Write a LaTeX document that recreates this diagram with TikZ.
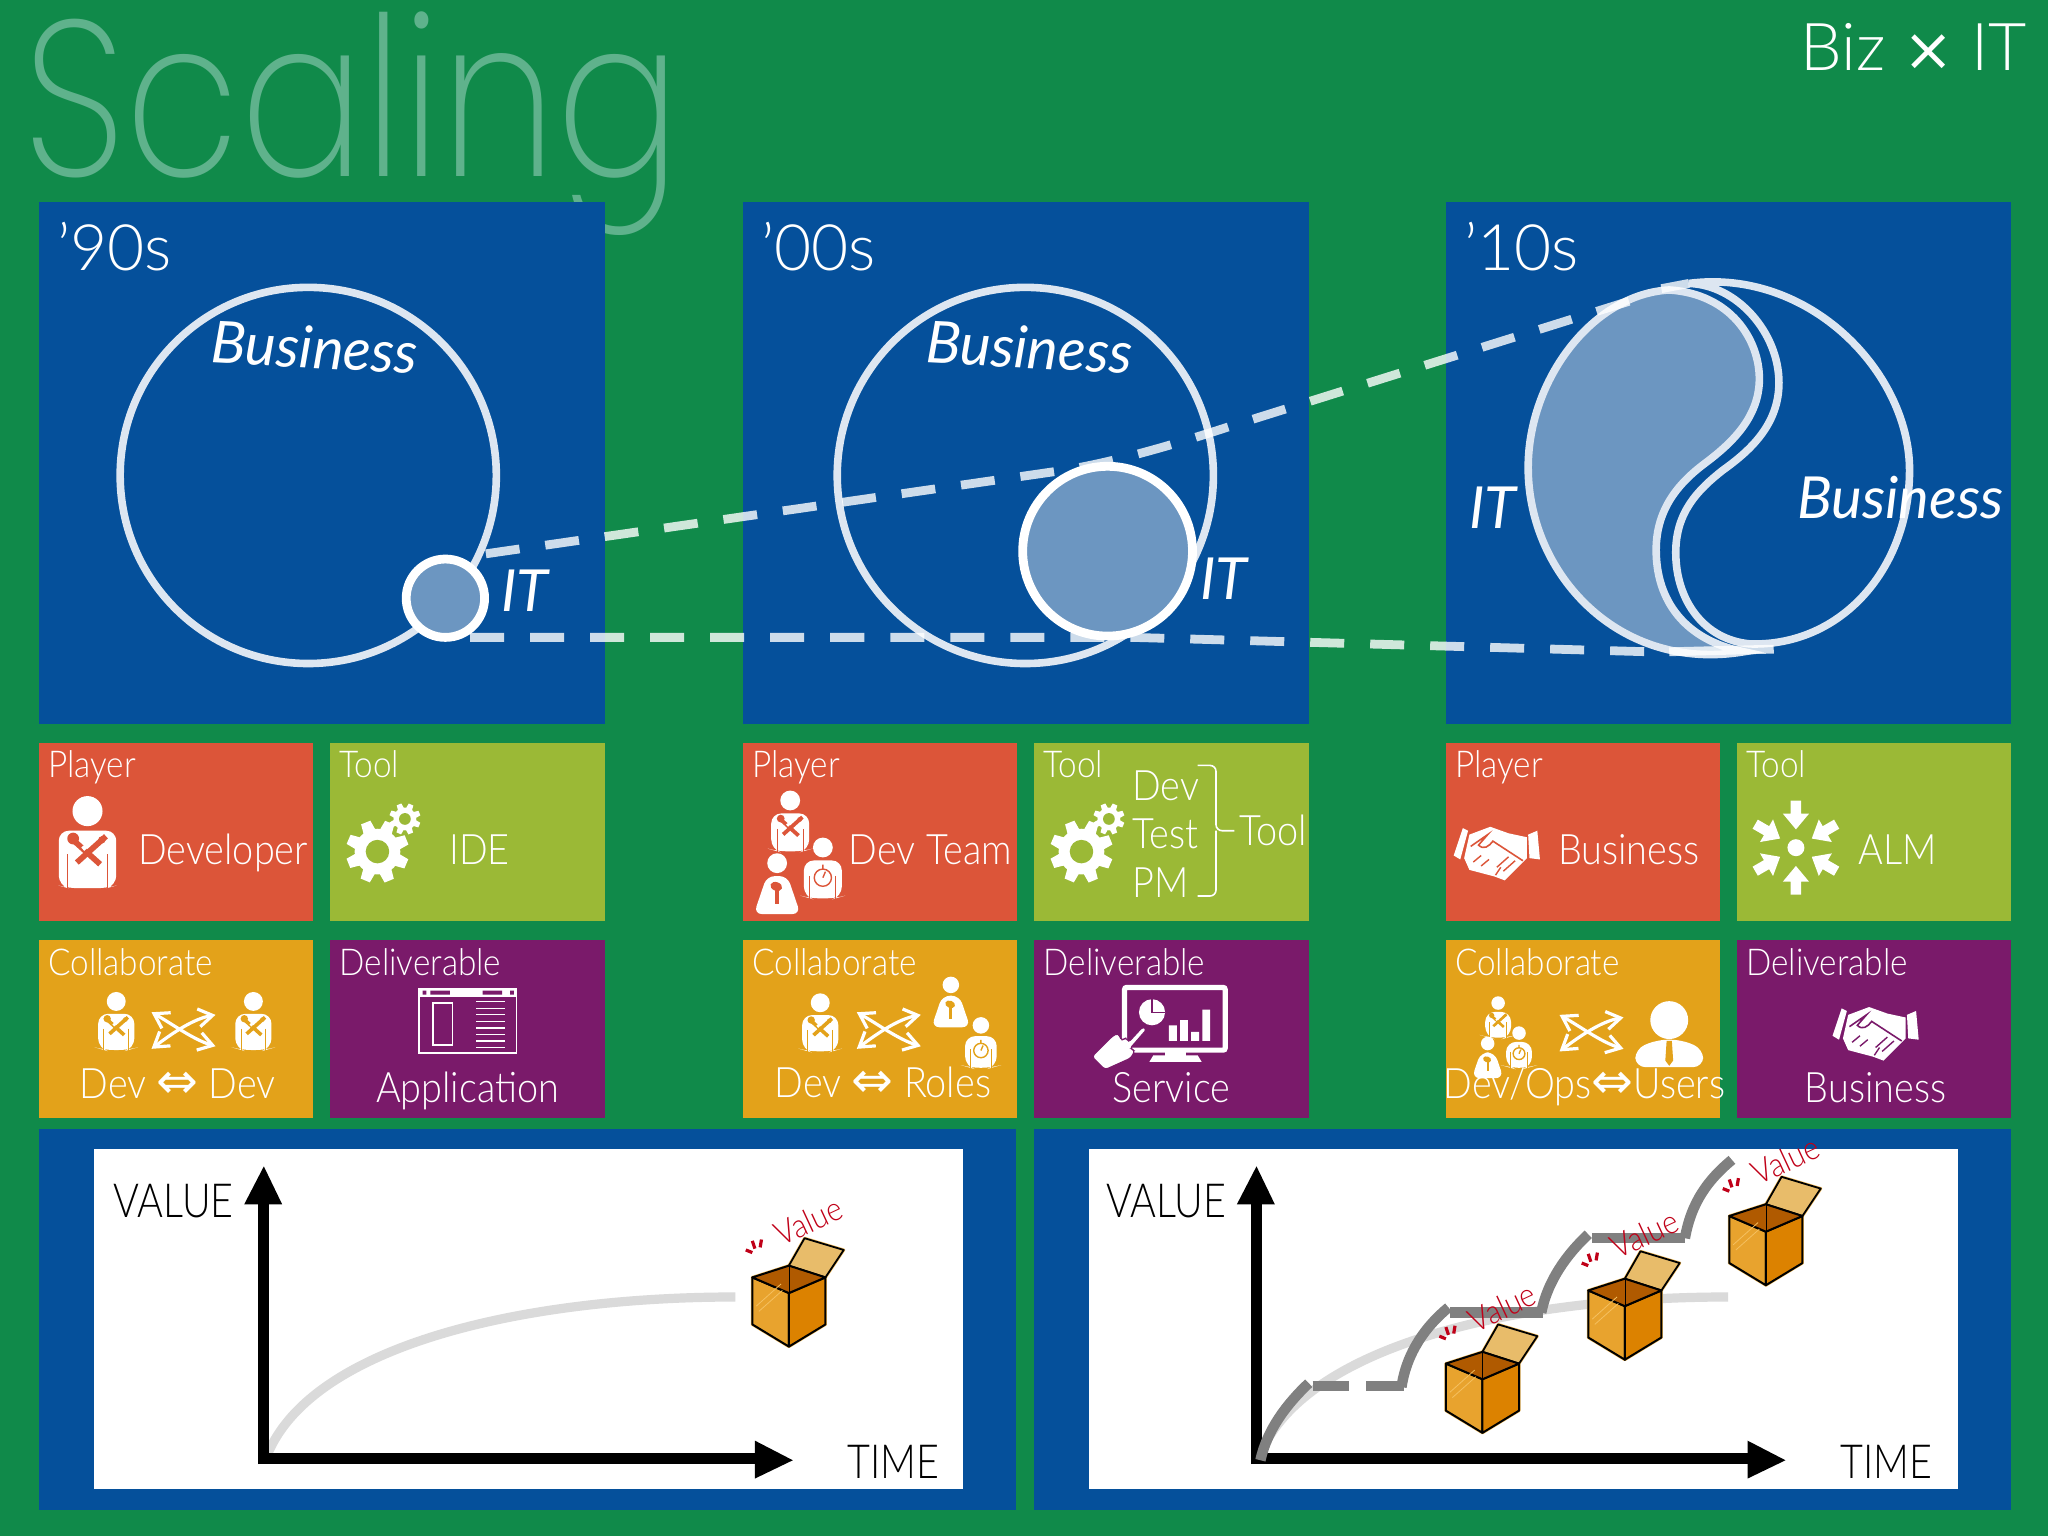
\documentclass[tikz,border=0pt]{standalone}
\usepackage{fontspec}
\usepackage{xcolor}
\setmainfont{Lato Light}[FakeStretch=.9]
\newfontfamily\widefont{Lato Light}
\newfontfamily\axisfont{Lato Light}[FakeStretch=.84]
\newfontfamily\titlefont{Poppins ExtraLight}[FakeStretch=.83]
\newfontfamily\handfont{Lato Italic}
\newfontfamily\arrowfont{DejaVu Sans}
\usetikzlibrary{positioning,calc,arrows.meta}
\definecolor{pagegreen}{HTML}{108A4A}
\definecolor{titlegreen}{HTML}{5FB28C}
\definecolor{panelblue}{HTML}{05509B}
\definecolor{itblue}{HTML}{6C96C1}
\definecolor{ringwhite}{HTML}{DDE6F1}
\definecolor{tilered}{HTML}{DC5539}
\definecolor{tilelime}{HTML}{9BB936}
\definecolor{tileorange}{HTML}{E3A21A}
\definecolor{tilepurple}{HTML}{7A1A6A}
\definecolor{curvegrey}{HTML}{808080}
\definecolor{curvelight}{HTML}{DADADA}
\definecolor{valuered}{HTML}{C00018}
\definecolor{boxleft}{HTML}{E8A32E}
\definecolor{boxright}{HTML}{DC8200}
\definecolor{boxinner}{HTML}{B05A00}
\definecolor{boxlid}{HTML}{E8BC6A}
\definecolor{boxglow}{HTML}{F5C060}
\newcommand{\sz}[1]{\fontsize{#1}{#1}\selectfont}
\tikzset{
  every node/.style={inner sep=0pt,outer sep=0pt},
  label/.style={text=white,anchor=base west},
  clabel/.style={text=white,anchor=base},
  hand/.style={text=white,font=\handfont\sz{29}},
  ring/.style={draw=ringwhite,line width=3.8pt},
  itdisc/.style={draw=white,fill=itblue,line width=4.4pt},
  linkdash/.style={draw=white,opacity=.8,line width=4.4pt,dash pattern=on 17pt off 13pt},
  linkend/.style={draw=white,opacity=.8,line width=4.4pt},
  axisline/.style={line width=5.5pt},
  % people
  devman/.pic={
    \fill[white] (0,-29) circle (11.5);
    \fill[white,rounded corners=5] (-22,28)--(-22,-14)--(22,-14)--(22,28)--(15,30)--(-15,30)--cycle;
    \draw[#1,line width=.5pt] (-15,4)--(-15,31) (15,4)--(15,31);
    \fill[#1,rotate around={48:(0,3)}] (-2.2,-15) rectangle (2.2,16);
    \fill[#1,rotate around={-48:(0,3)}] (-2.2,-16) rectangle (2.2,14);
    \fill[#1] (-11,-8) circle (4.5);
    \fill[white,rotate around={-48:(-11,-8)}] (-1.7,-13) rectangle (1.7,-8);
    \fill[#1] (11,-7) circle (2.8);
  },
  testman/.pic={
    \fill[white] (0,-29) circle (11.5);
    \fill[white,rounded corners=5] (-22,28)--(-22,-14)--(22,-14)--(22,28)--(15,30)--(-15,30)--cycle;
    \draw[#1,line width=.5pt] (-15,4)--(-15,31) (15,4)--(15,31);
    \draw[#1,line width=.7pt] (0,6) circle (10) (0,-4)--(0,-9) (0,6)--(3,-1);
  },
  pmman/.pic={
    \fill[white] (0,-29) circle (11.5);
    \fill[white,rounded corners=4] (-12,-14)--(12,-14)--(27,30)--(-27,30)--cycle;
    \fill[#1,rotate around={-20:(-1,-2)}] (-1,-2) ellipse (7 and 5);
    \fill[#1] (-2,0) rectangle (2,18);
  },
  suitman/.pic={
    \fill[white] (0,-17) circle (14.5);
    \fill[white,rounded corners=5] (-26,19)--(-26,5)--(-9,-2)--(9,-2)--(26,5)--(26,19)--cycle;
    \fill[#1] (-2,-1)--(2,-1)--(3,14)--(0,18)--(-3,14)--cycle;
  },
  swapsign/.pic={
    \draw[white,line width=1.6pt,{Straight Barb[length=7pt,width=9pt]}-{Straight Barb[length=7pt,width=9pt]}]
      (-24,15) .. controls (-8,3) and (8,-8) .. (25,-11);
    \draw[white,line width=1.6pt,{Straight Barb[length=7pt,width=9pt]}-{Straight Barb[length=7pt,width=9pt]}]
      (-24,-13) .. controls (-8,-4) and (8,8) .. (25,13);
  },
  gearwheel/.pic={
    \fill[white] (0,0) circle (17.5);
    \foreach \a in {0,45,...,315}
      \fill[white,rotate=\a+22] (15,-5) -- (24,-3.8) -- (24,3.8) -- (15,5) -- cycle;
    \fill[#1] (0,0) circle (9);
  },
  gearpair/.pic={
    \pic at (0,0) {gearwheel=#1};
    \pic[scale=.5] at (21,-25) {gearwheel=#1};
  },
  handshake/.pic={
    \fill[white] (-21,-13)--(-5,-19)--(9,-14)--(23,-11)--(23,5)--(6,22)--(-2,19)--(-21,14)--(-25,5)--cycle;
    \fill[white] (-33,3)--(-26,-18)--(-22,-16)--(-28,6)--cycle;
    \fill[white] (24,-13)--(31,-16)--(33,6)--(25,5)--cycle;
    \draw[#1,line width=.8pt] (-20,-4)--(-7,-13)--(-14,-5) .. controls (-10,-1) and (-6,-4) .. (-3,-8)--(20,7);
    \draw[#1,line width=.7pt] (14,7)--(5,15) (9,4)--(0,12) (3,12)--(-1,18) (-18,8)--(-12,3) (-12,11)--(-6,6);
  },
  almsign/.pic={
    \fill[white] (0,0) circle (6.5);
    \foreach \a in {30,90,...,330}
      \fill[white,rotate=\a] (36,-4)--(26,-4)--(26,-10)--(14,0)--(26,10)--(26,4)--(36,4)--cycle;
  },
  % deliverables
  appwindow/.pic={
    \draw[white,line width=.9pt] (0,0) rectangle (75,49);
    \fill[white] (0,0) rectangle (75,6);
    \fill[tilepurple] (3,1.5) rectangle (6,4.5) (9,1.5) rectangle (24,4.5) (49,1.5) rectangle (64,4.5) (70,1.5) rectangle (73,4.5);
    \draw[white,line width=.8pt] (11,11) rectangle (26,43);
    \foreach \y in {10,15,...,45}
      \draw[white,line width=.6pt] (44,\y)--(66,\y);
  },
  kiosk/.pic={
    \draw[white,line width=2.6pt,rounded corners=1pt] (0,0) rectangle (77,48);
    \fill[white] (31,49) rectangle (47,52) (22,52)--(56,52)--(59,57)--(19,57)--cycle;
    \fill[white] (21,19) circle (10);
    \draw[tilepurple,line width=.7pt] (21,9)--(21,19)--(31,19);
    \fill[white] (34,41) rectangle (40,29) (42.5,41) rectangle (48.5,25) (51,41) rectangle (57,34) (59.5,41) rectangle (65.5,17);
    \fill[white,draw=tilepurple,line width=.6pt,rounded corners=1.5pt] (17,32)--(14,30)--(3,42)--(1,38)--(-2,41)--(-5,35)--(-9,37)--(-25,53)--(-15,63)--(5,54)--(8,48)--(4,47)--cycle;
  },
  % opened box with its sign
  valuebox/.pic={
    \path[fill=boxglow,draw=boxglow,line width=1.5pt,line join=round] (0,-9)--(12,-30)--(42,-21)--(28,0)--(28,36)--(0,53)--(-28,36)--(-28,0)--cycle;
    \draw[black,fill=boxlid,line width=.9pt,line join=round] (0,-9)--(12,-30)--(42,-21)--(28,0)--cycle;
    \draw[black,fill=boxleft,line width=1pt,line join=round] (-28,0)--(0,12)--(0,53)--(-28,36)--cycle;
    \draw[black,fill=boxright,line width=1pt,line join=round] (28,0)--(0,12)--(0,53)--(28,36)--cycle;
    \draw[black,fill=boxinner,line width=1pt,line join=round] (-28,0)--(0,-9)--(28,0)--(0,12)--cycle;
    \draw[black,line width=.3pt] (0,-9)--(0,12);
    \draw[boxglow,line width=.4pt] (-25,22)--(-6,5) (-23,26)--(-5,10);
    \draw[valuered,line width=1.6pt] (-33,-21)--(-28,-19) (-28,-28)--(-26,-22) (-21,-29)--(-22,-23);
  },
}
\begin{document}
\begin{tikzpicture}[x=.653pt,y=-.653pt]
  \useasboundingbox (0,0) rectangle (1568,1176);
  \fill[pagegreen] (0,0) rectangle (1568,1176);
  \node[anchor=base west,text=titlegreen,font=\titlefont\sz{111}] (title) at (18,135) {Scaling};
  \node[anchor=base east,text=white,font=\widefont\sz{33}] (bizit) at (1552,54) {Biz {\arrowfont\sz{30}×} IT};
  % columns
  \foreach \dx/\era in {0/90,539/00,1077/10}{
    \fill[panelblue] (30+\dx,155) rectangle (463+\dx,554);
    \node[label,font=\widefont\sz{32}] (era\era) at (44+\dx,207) {’\era s};
    \fill[tilered] (30+\dx,569) rectangle (240+\dx,705);
    \fill[tilelime] (253+\dx,569) rectangle (463+\dx,705);
    \fill[tileorange] (30+\dx,720) rectangle (240+\dx,856);
    \fill[tilepurple] (253+\dx,720) rectangle (463+\dx,856);
    \node[label,font=\sz{18.5}] (player\era) at (37+\dx,595) {Player};
    \node[label,font=\sz{18.5}] (tool\era) at (260+\dx,595) {Tool};
    \node[label,font=\sz{18.5}] (collab\era) at (37+\dx,747) {Collaborate};
    \node[label,font=\sz{18.5}] (deliv\era) at (260+\dx,747) {Deliverable};
  }
  \fill[panelblue] (30,864) rectangle (778,1156);
  \fill[panelblue] (792,864) rectangle (1540,1156);
  \fill[white] (72,880) rectangle (737,1140);
  \fill[white] (834,880) rectangle (1499,1140);
  % circles
  \draw[ring] (236,364) circle (144);
  \draw[ring] (785,364) circle (144);
  \draw[ring] (1293,217) .. controls (1385,205) and (1462,285) .. (1462,360) .. controls (1462,435) and (1410,495) .. (1340,493) .. controls (1305,490) and (1283,460) .. (1283,423) .. controls (1283,392) and (1300,375) .. (1319,360) .. controls (1340,345) and (1362,325) .. (1362,293) .. controls (1362,255) and (1330,218) .. (1293,217) -- cycle;
  \draw[ring,fill=itblue] (1278,222) .. controls (1325,225) and (1347,260) .. (1347,290) .. controls (1347,320) and (1325,340) .. (1305,355) .. controls (1285,370) and (1268,390) .. (1268,421) .. controls (1268,460) and (1290,490) .. (1335,499) .. controls (1240,515) and (1170,440) .. (1170,358) .. controls (1170,290) and (1220,225) .. (1278,222) -- cycle;
  % dashed links
  \draw[linkdash] (372,424) -- (808,361) .. controls (850,355) and (900,340) .. (940,327) -- (1262,226);
  \draw[linkdash] (360,488) -- (867,488) -- (1262,499);
  \draw[linkend] (1272,221) -- (1293,217);
  \draw[linkend] (1278,499) -- (1358,497);
  \draw[itdisc] (341,458) circle (30);
  \draw[itdisc] (848,422) circle (65);
  \node[hand,rotate=-3] (biz90) at (241,266) {Business};
  \node[hand,rotate=-3] (biz00) at (788,266) {Business};
  \node[hand] (biz10) at (1455,381) {Business};
  \node[hand] (it90) at (402,452) {IT};
  \node[hand] (it00) at (937,443) {IT};
  \node[hand] (it10) at (1143,389) {IT};
  % '90s tiles
  \pic at (67,650) {devman=tilered};
  \node[label,font=\sz{21}] (developer) at (106,662) {Developer};
  \pic at (289,652) {gearpair=tilelime};
  \node[label,font=\sz{21}] (ide) at (344,662) {IDE};
  \pic[scale=.63] at (89,785) {devman=tileorange};
  \pic[scale=.63] at (194,785) {devman=tileorange};
  \pic at (140,788) {swapsign};
  \node[clabel,font=\sz{21}] (devdev) at (136,841) {Dev {\arrowfont\sz{25}⇔} Dev};
  \pic at (320.5,757) {appwindow};
  \node[clabel,font=\sz{21}] (application) at (358,844) {Application};
  % '00s tiles
  \pic[scale=.66] at (605,632) {devman=tilered};
  \pic[scale=.66] at (630,668) {testman=tilered};
  \pic[scale=.66] at (595,680) {pmman=tilered};
  \node[label,font=\sz{21}] (devteam) at (650,662) {Dev Team};
  \pic at (828,652) {gearpair=tilelime};
  \node[label,font=\sz{21}] (dev) at (867,613) {Dev};
  \node[label,font=\sz{21}] (test) at (867,650) {Test};
  \node[label,font=\sz{21}] (pm) at (867,687) {PM};
  \node[label,font=\sz{21}] (toolall) at (949,647) {Tool};
  \draw[white,line width=.8pt,rounded corners=3pt] (917,586)--(931,586)--(931,636)--(945,636);
  \draw[white,line width=.8pt,rounded corners=3pt] (917,686)--(931,686)--(931,636);
  \pic[scale=.63] at (628,786) {devman=tileorange};
  \pic[scale=.55] at (728,770) {pmman=tileorange};
  \pic[scale=.55] at (751,801) {testman=tileorange};
  \pic at (680,788) {swapsign};
  \node[clabel,font=\sz{21}] (devroles) at (676,840) {Dev {\arrowfont\sz{25}⇔} Roles};
  \pic at (861,756) {kiosk};
  \node[clabel,font=\sz{21}] (service) at (897,844) {Service};
  % '10s tiles
  \pic at (1146,652) {handshake=tilered};
  \node[label,font=\sz{21}] (bizplayer) at (1193,662) {Business};
  \pic at (1375,649) {almsign};
  \node[label,font=\sz{21}] (alm) at (1423,662) {ALM};
  \pic[scale=.45] at (1147,781) {devman=tileorange};
  \pic[scale=.45] at (1163,804) {testman=tileorange};
  \pic[scale=.45] at (1139,812) {pmman=tileorange};
  \pic at (1218,790) {swapsign};
  \pic at (1278,798) {suitman=tileorange};
  \node[clabel,font=\sz{21}] (devusers) at (1213,841) {Dev/Ops{\arrowfont\sz{25}⇔}Users};
  \pic at (1436,790) {handshake=tilepurple};
  \node[clabel,font=\sz{21}] (bizdeliv) at (1436,844) {Business};
  % charts
  \foreach \dx in {0,760}{
    \draw[curvelight,line width=4.6pt] (205+\dx,1113) .. controls (240+\dx,1030) and (400+\dx,993) .. (563+\dx,993);
    \draw[axisline] (202+\dx,1121) -- (202+\dx,920);
    \fill (187+\dx,922) -- (202+\dx,893) -- (216+\dx,922) -- cycle;
    \draw[axisline] (198+\dx,1117) -- (580+\dx,1117);
    \fill (578+\dx,1103) -- (607+\dx,1118) -- (578+\dx,1132) -- cycle;
  }
  \node[anchor=base west,font=\axisfont\sz{23.5}] (value90) at (87,932) {VALUE};
  \node[anchor=base west,font=\axisfont\sz{23.5}] (value10) at (847,932) {VALUE};
  \node[anchor=base west,font=\axisfont\sz{23.5}] (time90) at (649,1132) {TIME};
  \node[anchor=base west,font=\axisfont\sz{23.5}] (time10) at (1409,1132) {TIME};
  \draw[curvegrey,line width=5.2pt] (965,1118) .. controls (970,1095) and (985,1075) .. (1002,1059);
  \draw[curvegrey,line width=5.2pt] (1005,1061) -- (1033,1061) (1046,1061) -- (1075,1061);
  \draw[curvegrey,line width=5.2pt] (1073,1062) .. controls (1077,1035) and (1092,1015) .. (1109,1001);
  \draw[curvegrey,line width=5.2pt] (1110,1005) -- (1181,1005);
  \draw[curvegrey,line width=5.2pt] (1180,1005) .. controls (1185,980) and (1200,960) .. (1216,945);
  \draw[curvegrey,line width=5.2pt] (1219,948) -- (1290,948);
  \draw[curvegrey,line width=5.2pt] (1290,948) .. controls (1295,920) and (1308,903) .. (1326,888);
  \foreach \bx/\by/\nm in {604/978/a,1135/1044/b,1244/988/c,1352/931/d}{
    \pic at (\bx,\by) {valuebox};
    \node[text=valuered,font=\sz{16.5},rotate=25] (value\nm) at (\bx+15,\by-43) {Value};
  }
\end{tikzpicture}
\end{document}
